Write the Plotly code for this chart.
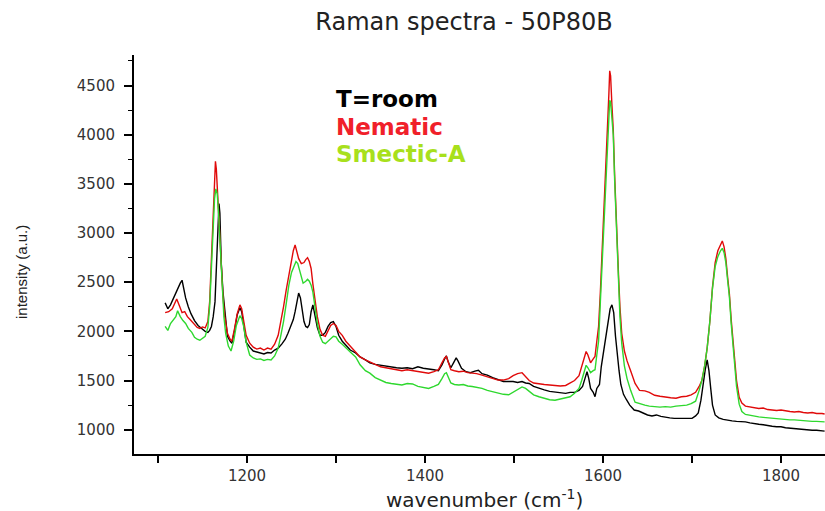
import plotly.graph_objects as go

# ---------------- data ----------------
room_wn = [1108, 1111, 1114, 1117, 1120, 1123, 1125, 1127, 1129, 1131, 1134, 1137, 1141, 1145, 1149, 1153,
           1156, 1158, 1160, 1162, 1164, 1166, 1167.5, 1168.5, 1169.5, 1171, 1173, 1175, 1178, 1181, 1183,
           1186, 1189, 1192, 1194, 1196, 1199, 1203, 1207, 1211, 1215, 1219, 1223, 1227, 1231, 1235, 1239,
           1243, 1246, 1249, 1252, 1254, 1256, 1258, 1260, 1262, 1264, 1266, 1268, 1270, 1272, 1274, 1276,
           1279, 1282, 1285, 1288, 1291, 1294, 1297, 1300, 1303, 1307, 1311, 1316, 1322, 1327, 1333, 1338,
           1344, 1350, 1356, 1362, 1368, 1374, 1380, 1386, 1392, 1398, 1404, 1410, 1415, 1419, 1422, 1424,
           1426, 1429, 1432, 1435, 1437, 1441, 1446, 1451, 1456, 1460, 1464, 1470, 1476, 1482, 1488, 1494,
           1499, 1504, 1509, 1513, 1517, 1522, 1528, 1534, 1540, 1546, 1552, 1558, 1563, 1568, 1573, 1577,
           1580, 1582, 1584, 1586, 1589, 1591, 1593, 1596, 1598, 1600, 1602, 1604, 1606, 1608, 1610, 1612,
           1614, 1616, 1618, 1620, 1623, 1626, 1630, 1635, 1640, 1645, 1650, 1655, 1660, 1665, 1670, 1675,
           1680, 1685, 1690, 1695, 1700, 1704, 1707, 1710, 1713, 1715, 1717, 1719, 1721, 1723, 1726, 1730,
           1735, 1740, 1745, 1750, 1755, 1760, 1765, 1770, 1775, 1780, 1785, 1790, 1795, 1800, 1805, 1810,
           1815, 1820, 1825, 1830, 1835, 1840, 1846, 1849]
room_int = [2290, 2230, 2270, 2330, 2400, 2450, 2490, 2520, 2420, 2340, 2250, 2180, 2110, 2060, 2030, 2000,
            1990, 2010, 2050, 2150, 2300, 2700, 3100, 3300, 3200, 2700, 2400, 2200, 1950, 1900, 1880,
            2010, 2170, 2240, 2200, 2080, 1890, 1840, 1800, 1790, 1780, 1770, 1785, 1780, 1810, 1830, 1870,
            1920, 1980, 2050, 2120, 2200, 2320, 2390, 2340, 2200, 2100, 2050, 2040, 2070, 2200, 2270, 2190,
            2040, 1960, 1960, 1990, 2050, 2090, 2100, 2050, 1960, 1900, 1860, 1810, 1780, 1740, 1710, 1680,
            1665, 1655, 1645, 1640, 1630, 1625, 1630, 1620, 1640, 1625, 1620, 1610, 1600, 1660, 1720, 1750,
            1690, 1630, 1680, 1730, 1700, 1625, 1590, 1580, 1595, 1605, 1570, 1555, 1530, 1510, 1490, 1490,
            1490, 1480, 1490, 1475, 1470, 1440, 1420, 1405, 1390, 1385, 1375, 1370, 1380, 1380, 1400, 1440,
            1530, 1590, 1520, 1420, 1380, 1336, 1420, 1460, 1640, 1760, 1880, 2000, 2150, 2230, 2270, 2190,
            1950, 1750, 1600, 1460, 1360, 1310, 1250, 1200, 1190, 1170, 1150, 1140, 1150, 1135, 1125, 1120,
            1115, 1115, 1110, 1115, 1115, 1140, 1170, 1300, 1500, 1620, 1710, 1600, 1420, 1250, 1150, 1120,
            1105, 1095, 1090, 1085, 1085, 1080, 1070, 1060, 1055, 1050, 1040, 1035, 1030, 1030, 1020, 1015,
            1010, 1005, 1005, 1000, 995, 995, 990, 985]

nematic_wn = [1108, 1112, 1116, 1119, 1121, 1124, 1127, 1130, 1133, 1136, 1140, 1144, 1147, 1150, 1153, 1156,
              1158, 1160, 1162, 1163.5, 1164.5, 1165.5, 1167, 1169, 1171, 1173, 1175, 1178, 1181, 1183, 1186,
              1189, 1192, 1194, 1196, 1199, 1203, 1207, 1211, 1215, 1219, 1223, 1227, 1231, 1235, 1238, 1241,
              1244, 1247, 1250, 1252, 1254, 1256, 1258, 1261, 1264, 1266, 1268, 1270, 1272, 1274, 1276, 1279,
              1282, 1285, 1288, 1291, 1294, 1297, 1300, 1303, 1307, 1311, 1316, 1322, 1327, 1333, 1338, 1344,
              1350, 1356, 1362, 1368, 1374, 1380, 1386, 1392, 1398, 1404, 1410, 1415, 1419, 1422, 1424, 1426,
              1429, 1433, 1438, 1443, 1448, 1453, 1458, 1464, 1470, 1476, 1482, 1488, 1494, 1499, 1504, 1509,
              1513, 1517, 1522, 1528, 1534, 1540, 1546, 1552, 1558, 1563, 1568, 1573, 1576, 1579, 1581, 1583,
              1586, 1589, 1591, 1593, 1595, 1597, 1599, 1601, 1603, 1605, 1606.5, 1607.5, 1608.5, 1610, 1611.5,
              1613, 1614.5, 1616, 1617.5, 1619, 1621, 1624, 1627, 1631, 1636, 1641, 1647, 1652, 1658, 1664,
              1670, 1676, 1682, 1688, 1694, 1699, 1704, 1708, 1711, 1714, 1717, 1720, 1723, 1726, 1729, 1732,
              1734, 1736, 1738, 1740, 1742, 1744, 1746, 1748, 1750, 1753, 1756, 1760, 1765, 1770, 1775, 1780,
              1785, 1790, 1795, 1800, 1805, 1810, 1815, 1820, 1825, 1830, 1835, 1840, 1846, 1849]
nematic_int = [2190, 2200, 2230, 2290, 2330, 2260, 2190, 2200, 2150, 2120, 2080, 2040, 2030, 2045, 2035, 2100,
               2300, 2800, 3300, 3650, 3730, 3650, 3400, 3000, 2600, 2350, 2150, 1980, 1920, 1900, 2030,
               2180, 2270, 2230, 2120, 1960, 1880, 1840, 1820, 1830, 1810, 1830, 1820, 1870, 1960, 2100, 2250,
               2420, 2580, 2720, 2820, 2880, 2820, 2740, 2690, 2700, 2730, 2750, 2710, 2640, 2480, 2330, 2150,
               2020, 1960, 1950, 2000, 2060, 2080, 2060, 2000, 1960, 1900, 1850, 1800, 1740, 1710, 1690, 1660,
               1640, 1630, 1620, 1610, 1600, 1610, 1600, 1590, 1580, 1575, 1590, 1610, 1680, 1730, 1745, 1680,
               1610, 1600, 1590, 1595, 1580, 1575, 1570, 1555, 1540, 1520, 1505, 1505, 1520, 1550, 1570, 1580,
               1540, 1500, 1475, 1465, 1460, 1455, 1450, 1445, 1450, 1475, 1500, 1550, 1640, 1740, 1795, 1760,
               1680, 1720, 1745, 1900, 2050, 2400, 2800, 3200, 3600, 3950, 4400, 4650, 4600, 4300, 4050,
               3600, 3200, 2850, 2550, 2250, 1980, 1800, 1700, 1600, 1470, 1400, 1395, 1380, 1350, 1340,
               1330, 1325, 1320, 1335, 1340, 1355, 1380, 1440, 1500, 1640, 1830, 2100, 2450, 2700, 2820, 2880,
               2920, 2860, 2740, 2550, 2380, 2120, 1880, 1680, 1500, 1330, 1270, 1240, 1230, 1225, 1215, 1220,
               1205, 1200, 1195, 1200, 1190, 1185, 1180, 1185, 1175, 1170, 1175, 1165, 1165, 1160]

smectic_wn = [1108, 1111, 1114, 1117, 1120, 1122, 1125, 1128, 1131, 1134, 1138, 1141, 1144, 1147, 1150, 1153,
              1156, 1158, 1160, 1162, 1163.5, 1165, 1166.5, 1168, 1170, 1172, 1174, 1176, 1179, 1182, 1185,
              1188, 1190, 1192, 1194, 1196, 1199, 1203, 1207, 1211, 1215, 1219, 1223, 1227, 1231, 1235, 1238,
              1241, 1244, 1247, 1250, 1253, 1255, 1257, 1260, 1263, 1266, 1268, 1270, 1272, 1274, 1276, 1279,
              1282, 1285, 1288, 1291, 1294, 1297, 1300, 1303, 1307, 1311, 1316, 1322, 1327, 1333, 1338, 1344,
              1350, 1356, 1362, 1368, 1374, 1380, 1386, 1392, 1398, 1404, 1410, 1415, 1419, 1422, 1424, 1426,
              1429, 1433, 1438, 1443, 1448, 1453, 1458, 1464, 1470, 1476, 1482, 1488, 1494, 1499, 1504, 1509,
              1513, 1517, 1522, 1528, 1534, 1540, 1546, 1552, 1558, 1563, 1568, 1573, 1576, 1579, 1581, 1583,
              1586, 1589, 1591, 1593, 1595, 1597, 1599, 1601, 1603, 1605, 1606.5, 1607.5, 1608.5, 1610, 1611.5,
              1613, 1614.5, 1616, 1617.5, 1619, 1621, 1624, 1627, 1631, 1636, 1641, 1647, 1652, 1658, 1664,
              1670, 1676, 1682, 1688, 1694, 1699, 1704, 1708, 1711, 1714, 1717, 1720, 1723, 1726, 1729, 1732,
              1734, 1736, 1738, 1740, 1742, 1744, 1746, 1748, 1750, 1753, 1756, 1760, 1765, 1770, 1775, 1780,
              1785, 1790, 1795, 1800, 1805, 1810, 1815, 1820, 1825, 1830, 1835, 1840, 1846, 1849]
smectic_int = [2050, 2010, 2080, 2110, 2150, 2210, 2150, 2110, 2080, 2030, 1990, 1940, 1920, 1910, 1930, 1950,
               2040, 2250, 2650, 3000, 3350, 3450, 3400, 3200, 2800, 2450, 2150, 1980, 1850, 1800, 1900,
               2060, 2120, 2160, 2130, 2060, 1890, 1760, 1730, 1715, 1720, 1705, 1715, 1710, 1750, 1830, 1960,
               2100, 2280, 2470, 2600, 2680, 2710, 2690, 2580, 2490, 2510, 2530, 2510, 2470, 2400, 2250, 2080,
               1950, 1890, 1875, 1900, 1930, 1950, 1945, 1900, 1870, 1830, 1790, 1740, 1660, 1600, 1575, 1530,
               1505, 1480, 1470, 1460, 1455, 1470, 1465, 1440, 1430, 1420, 1440, 1460, 1520, 1570, 1580, 1530,
               1475, 1460, 1455, 1460, 1445, 1440, 1430, 1420, 1400, 1385, 1370, 1360, 1355, 1380, 1410, 1435,
               1420, 1395, 1355, 1335, 1320, 1305, 1300, 1310, 1320, 1335, 1370, 1420, 1500, 1600, 1655, 1630,
               1580, 1600, 1610, 1760, 1900, 2300, 2700, 3100, 3500, 3850, 4200, 4350, 4330, 4150, 4000,
               3550, 3150, 2800, 2450, 2150, 1880, 1650, 1520, 1400, 1280, 1265, 1250, 1240, 1235, 1230,
               1235, 1230, 1240, 1245, 1250, 1265, 1290, 1400, 1500, 1640, 1830, 2100, 2440, 2660, 2760, 2820,
               2845, 2800, 2700, 2520, 2350, 2080, 1840, 1620, 1440, 1260, 1185, 1155, 1145, 1135, 1130, 1125,
               1120, 1115, 1115, 1110, 1105, 1100, 1100, 1095, 1090, 1090, 1085, 1085, 1080, 1080]

series_names = ["T=room", "Nematic", "Smectic-A"]
series_colors = ["#000000", "#e00a0a", "#2ed82e"]
label_colors = ["#000000", "#f0202a", "#a8e01c"]

title_text = "Raman spectra - 50P80B"
x_title = "wavenumber (cm<sup>-1</sup>)"
y_title = "intensity (a.u.)"

# ---------------- figure ----------------
fig = go.Figure()
for wn, inten, name, col in zip([room_wn, nematic_wn, smectic_wn],
                                [room_int, nematic_int, smectic_int],
                                series_names, series_colors):
    fig.add_trace(go.Scatter(x=wn, y=inten, mode="lines", name=name,
                             line=dict(color=col, width=1.4), showlegend=False,
                             hoverinfo="skip"))

L, R, T, B = 134, 0, 55, 57
W, H = 825, 511
pw, ph = W - L - R, H - T - B

def px_to_paper(x, y):
    return (x - L) / pw, (H - B - y) / ph

fig.update_layout(
    width=W, height=H,
    margin=dict(l=L, r=R, t=T, b=B),
    paper_bgcolor="white", plot_bgcolor="white",
    title=dict(text=title_text, x=464 / W, y=1 - 22 / H, xanchor="center", yanchor="middle",
               font=dict(family="DejaVu Sans", size=24, color="#222222")),
)

fig.update_xaxes(
    range=[1073, 1849.4], showgrid=False, zeroline=False,
    showline=True, linecolor="black", linewidth=2,
    ticks="outside", ticklen=7, tickwidth=1.5, tickcolor="black",
    tick0=0, dtick=200,
    minor=dict(ticks="outside", dtick=100, ticklen=7, tickwidth=1.5, tickcolor="black"),
    tickfont=dict(family="DejaVu Sans", size=15, color="#333333"),
)
fig.update_yaxes(
    range=[752.9, 4810.9], showgrid=False, zeroline=False,
    showline=True, linecolor="black", linewidth=2,
    ticks="outside", ticklen=8, tickwidth=1.5, tickcolor="black",
    tick0=0, dtick=500, ticklabelstandoff=6,
    minor=dict(ticks="outside", dtick=250, ticklen=4, tickwidth=1.2, tickcolor="black"),
    tickfont=dict(family="DejaVu Sans", size=15, color="#333333"),
)

# axis titles
ax, ay = px_to_paper(484, 499)
fig.add_annotation(text=x_title, xref="paper", yref="paper", x=ax, y=ay,
                   showarrow=False, xanchor="center", yanchor="middle",
                   font=dict(family="DejaVu Sans", size=20, color="#222222"))
ax, ay = px_to_paper(21, 272)
fig.add_annotation(text=y_title, xref="paper", yref="paper", x=ax, y=ay, textangle=-90,
                   showarrow=False, xanchor="center", yanchor="middle",
                   font=dict(family="Liberation Sans", size=15, color="#222222"))

# coloured labels acting as legend
for name, col, ypx in zip(series_names, label_colors, [99, 126.5, 154]):
    ax, ay = px_to_paper(334, ypx)
    fig.add_annotation(text="<b>" + name + "</b>", xref="paper", yref="paper", x=ax, y=ay,
                       showarrow=False, xanchor="left", yanchor="middle",
                       font=dict(family="DejaVu Sans", size=23, color=col))

fig.write_html("out.html", config={"displayModeBar": False})

# remove the browser's default 8px body margin so the figure sits at the page origin
with open("out.html", "r", encoding="utf-8") as f:
    html = f.read()
html = html.replace("<body>", '<body style="margin:0;padding:0;">', 1)
with open("out.html", "w", encoding="utf-8") as f:
    f.write(html)
